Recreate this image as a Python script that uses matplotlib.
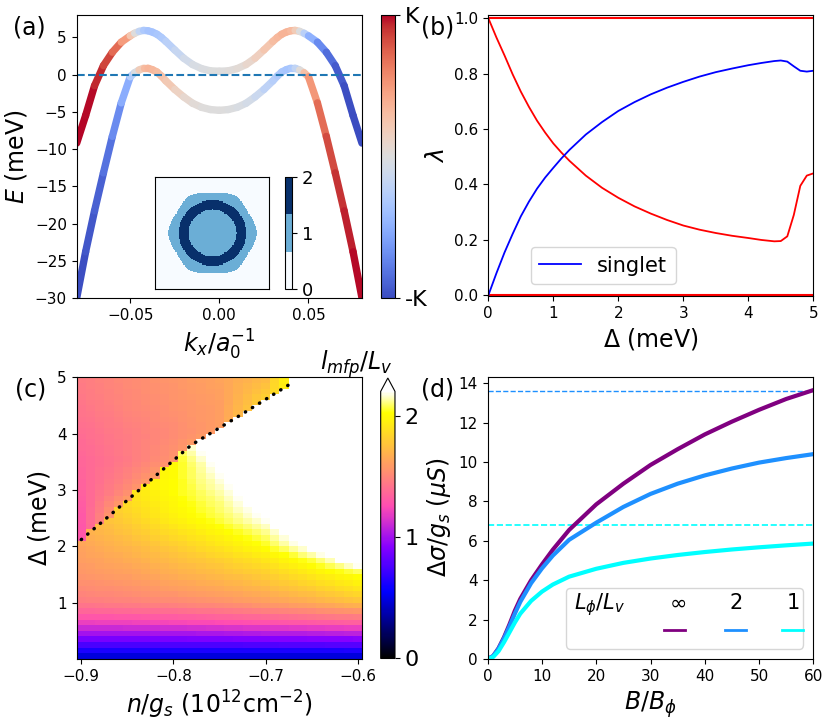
import numpy as np
import matplotlib
matplotlib.use('Agg')
import matplotlib.pyplot as plt
from matplotlib.collections import LineCollection
from matplotlib.lines import Line2D

# ---------------- (a) band structure ----------------
k_vals = [-0.08, -0.075, -0.07, -0.065, -0.06, -0.055, -0.05, -0.0475, -0.045, -0.0425, -0.04,
          -0.0375, -0.035, -0.0325, -0.03, -0.025, -0.02, -0.015, -0.01, -0.005, 0.0, 0.005, 0.01,
          0.015, 0.02, 0.025, 0.03, 0.0325, 0.035, 0.0375, 0.04, 0.0425, 0.045, 0.0475, 0.05,
          0.055, 0.06, 0.065, 0.07, 0.075, 0.08]
upper_E = [-9.2, -5.5, -1.5, 1.2, 3.0, 4.35, 5.2, 5.55, 5.8, 5.93, 5.88, 5.7, 5.42, 4.98, 4.45,
           3.3, 2.2, 1.35, 0.8, 0.5, 0.45, 0.5, 0.8, 1.35, 2.2, 3.3, 4.45, 4.98, 5.42, 5.7, 5.88,
           5.93, 5.8, 5.55, 5.2, 4.35, 3.0, 1.2, -1.5, -5.5, -9.2]
lower_E = [-30.0, -23.8, -18.3, -13.2, -8.3, -3.8, -0.3, 0.25, 0.62, 0.85, 0.85, 0.65, 0.35,
           -0.2, -0.85, -2.0, -3.0, -3.85, -4.4, -4.7, -4.8, -4.7, -4.4, -3.85, -3.0, -2.0, -0.85,
           -0.2, 0.35, 0.65, 0.85, 0.85, 0.62, 0.25, -0.3, -3.8, -8.3, -13.2, -18.3, -23.8, -30.0]
upper_pol = [1.0, 1.0, 0.97, 0.9, 0.8, 0.62, 0.35, 0.12, -0.1, -0.28, -0.36, -0.37, -0.35, -0.32,
             -0.28, -0.2, -0.12, -0.06, -0.03, -0.01, 0.0, 0.01, 0.03, 0.06, 0.12, 0.2, 0.28, 0.32,
             0.35, 0.37, 0.36, 0.28, 0.1, -0.12, -0.35, -0.62, -0.8, -0.9, -0.97, -1.0, -1.0]
lower_pol = [-1.0, -0.97, -0.93, -0.87, -0.78, -0.62, -0.4, -0.15, 0.1, 0.28, 0.35, 0.34, 0.32, 0.28,
             0.25, 0.18, 0.1, 0.05, 0.02, 0.0, 0.0, 0.0, -0.02, -0.05, -0.1, -0.18, -0.25, -0.28,
             -0.32, -0.34, -0.35, -0.28, -0.1, 0.15, 0.4, 0.62, 0.78, 0.87, 0.93, 0.97, 1.0]

# inset: Fermi-surface count map (hexagonal pocket with ring)
hex_apothem = 0.73
ring_outer = 0.59
ring_inner = 0.42
inset_pixels = 101

# ---------------- (b) eigenvalues ----------------
delta_b = [0, 0.125, 0.25, 0.375, 0.5, 0.625, 0.75, 0.875, 1.0, 1.125, 1.25, 1.5, 1.75, 2.0,
           2.25, 2.5, 2.75, 3.0, 3.25, 3.5, 3.75, 4.0, 4.2, 4.4, 4.5, 4.6, 4.7, 4.8, 4.9, 5.0]
red_curve = [1.0, 0.93, 0.865, 0.797, 0.735, 0.68, 0.63, 0.587, 0.548, 0.515, 0.485, 0.432,
             0.388, 0.352, 0.321, 0.295, 0.272, 0.252, 0.237, 0.225, 0.215, 0.207, 0.2, 0.195,
             0.196, 0.213, 0.29, 0.395, 0.432, 0.44]
singlet = [0.0, 0.08, 0.155, 0.222, 0.285, 0.338, 0.385, 0.425, 0.46, 0.494, 0.525, 0.58, 0.625,
           0.665, 0.697, 0.725, 0.749, 0.77, 0.789, 0.805, 0.818, 0.83, 0.838, 0.845, 0.847,
           0.843, 0.826, 0.81, 0.807, 0.81]
red_flat = [0.0, 1.0]

# ---------------- (c) l_mfp / L_v map ----------------
n_cols = [-0.9, -0.85, -0.8, -0.75, -0.7, -0.65, -0.6]
lower_rows = [0.05, 0.15, 0.25, 0.35, 0.45, 0.55, 0.65, 0.75, 0.85, 1.0, 1.25, 1.5, 1.75, 2.0,
              2.5, 3.0, 3.5, 4.0, 5.0]
lower_table = [
    [0.48, 0.48, 0.48, 0.48, 0.48, 0.48, 0.48],
    [0.62, 0.62, 0.62, 0.62, 0.62, 0.62, 0.63],
    [0.75, 0.75, 0.76, 0.76, 0.77, 0.78, 0.79],
    [0.88, 0.88, 0.89, 0.90, 0.91, 0.92, 0.93],
    [1.00, 1.00, 1.01, 1.02, 1.04, 1.05, 1.07],
    [1.10, 1.11, 1.12, 1.14, 1.16, 1.18, 1.20],
    [1.20, 1.21, 1.23, 1.25, 1.28, 1.31, 1.34],
    [1.29, 1.30, 1.32, 1.35, 1.38, 1.42, 1.46],
    [1.36, 1.38, 1.40, 1.43, 1.47, 1.52, 1.57],
    [1.45, 1.48, 1.51, 1.55, 1.60, 1.66, 1.74],
    [1.52, 1.55, 1.60, 1.65, 1.71, 1.80, 1.91],
    [1.57, 1.61, 1.67, 1.73, 1.81, 1.93, 2.04],
    [1.60, 1.66, 1.73, 1.81, 1.91, 2.06, 2.28],
    [1.63, 1.71, 1.80, 1.91, 2.03, 2.24, 2.45],
    [1.70, 1.82, 1.96, 2.07, 2.20, 2.45, 2.60],
    [1.75, 1.90, 2.02, 2.14, 2.32, 2.60, 2.60],
    [1.80, 1.95, 2.00, 2.24, 2.50, 2.60, 2.60],
    [1.85, 2.00, 2.10, 2.40, 2.60, 2.60, 2.60],
    [1.90, 2.10, 2.30, 2.60, 2.60, 2.60, 2.60],
]
upper_rows = [2.0, 2.5, 3.0, 3.5, 4.0, 4.5, 5.0]
upper_table = [
    [1.28, 1.60, 1.80, 1.90, 2.00, 2.00, 2.00],
    [1.30, 1.75, 1.80, 1.90, 2.00, 2.00, 2.00],
    [1.34, 1.52, 1.75, 1.90, 2.00, 2.00, 2.00],
    [1.36, 1.45, 1.56, 1.80, 2.00, 2.00, 2.00],
    [1.39, 1.46, 1.52, 1.60, 1.95, 2.00, 2.00],
    [1.43, 1.50, 1.55, 1.60, 1.85, 2.00, 2.00],
    [1.46, 1.52, 1.57, 1.63, 1.72, 2.30, 2.30],
]
boundary_n = [-0.9, -0.8726, -0.7805, -0.7282, -0.6754]
boundary_d = [2.12, 2.50, 3.80, 4.32, 4.86]

# ---------------- (d) magnetoconductance ----------------
B_vals = [0, 1, 2, 3, 4, 5, 6, 8, 10, 12, 15, 20, 25, 30, 35, 40, 45, 50, 55, 60]
sigma_inf = [0, 0.15, 0.55, 1.1, 1.75, 2.45, 3.05, 4.0, 4.8, 5.55, 6.55, 7.85, 8.9, 9.85, 10.65,
             11.4, 12.05, 12.65, 13.2, 13.65]
sigma_2 = [0, 0.15, 0.52, 1.05, 1.65, 2.3, 2.9, 3.85, 4.6, 5.25, 6.05, 6.92, 7.72, 8.38, 8.9,
           9.32, 9.67, 9.97, 10.2, 10.4]
sigma_1 = [0, 0.1, 0.4, 0.85, 1.35, 1.85, 2.3, 2.95, 3.42, 3.78, 4.18, 4.58, 4.88, 5.1, 5.28,
           5.43, 5.56, 5.67, 5.77, 5.86]
sat_2 = 13.58
sat_1 = 6.79

LABEL = 17
TICK = 11

fig = plt.figure(figsize=(8.31, 7.21), dpi=100)

# ---- panel (a)
ax_a = fig.add_axes([0.0923, 0.5867, 0.3433, 0.3925])
norm_a = plt.Normalize(-1, 1)
for E, pol in [(upper_E, upper_pol), (lower_E, lower_pol)]:
    pts = np.column_stack([k_vals, E])
    segs = np.stack([pts[:-1], pts[1:]], axis=1)
    seg_pol = 0.5 * (np.array(pol[:-1]) + np.array(pol[1:]))
    lc = LineCollection(segs, cmap='coolwarm', norm=norm_a, linewidths=5.3, capstyle='round')
    lc.set_array(seg_pol)
    ax_a.add_collection(lc)
ax_a.axhline(0, color='#1f77b4', linestyle='--', lw=1.5)
ax_a.set_xlim(-0.08, 0.08)
ax_a.set_ylim(-30, 8)
ax_a.set_xticks([-0.05, 0.0, 0.05])
ax_a.set_yticks([-30, -25, -20, -15, -10, -5, 0, 5])
ax_a.tick_params(labelsize=TICK)
ax_a.set_xlabel(r'$k_x/a_0^{-1}$', fontsize=LABEL)
ax_a.set_ylabel(r'$E$ (meV)', fontsize=LABEL)

cax_a = fig.add_axes([0.4585, 0.5867, 0.01685, 0.3925])
cb_a = fig.colorbar(plt.cm.ScalarMappable(norm=norm_a, cmap='coolwarm'), cax=cax_a)
cb_a.set_ticks([-1, 1])
cb_a.set_ticklabels(['-K', 'K'])
cb_a.ax.tick_params(labelsize=16)

# inset
ax_in = fig.add_axes([0.1865, 0.5992, 0.1372, 0.1553])
g = np.linspace(-1, 1, inset_pixels)
X, Y = np.meshgrid(g, g)
c30, s30 = np.cos(np.pi / 6), np.sin(np.pi / 6)
p = 10
hex_d = (np.abs(Y) ** p + np.abs(X * c30 + Y * s30) ** p + np.abs(X * c30 - Y * s30) ** p) ** (1 / p)
R = np.hypot(X, Y)
counts = (hex_d < hex_apothem).astype(float) + ((R < ring_outer) & (R > ring_inner)).astype(float)
im_in = ax_in.imshow(counts, cmap=plt.get_cmap('Blues', 3), vmin=0, vmax=2, origin='lower',
                     interpolation='nearest', extent=[-1, 1, -1, 1], aspect='auto')
ax_in.set_xticks([])
ax_in.set_yticks([])
cax_in = fig.add_axes([0.343, 0.5992, 0.0088, 0.1553])
cb_in = fig.colorbar(im_in, cax=cax_in, ticks=[0, 1, 2])
cb_in.ax.tick_params(labelsize=13)

# ---- panel (b)
ax_b = fig.add_axes([0.5876, 0.5895, 0.3911, 0.3893])
for v in red_flat:
    ax_b.plot([delta_b[0], delta_b[-1]], [v, v], color='red', lw=1.5)
ax_b.plot(delta_b, red_curve, color='red', lw=1.3)
ax_b.plot(delta_b, singlet, color='blue', lw=1.3, label='singlet')
ax_b.set_xlim(0, 5)
ax_b.set_ylim(-0.002, 1.01)
ax_b.set_yticks([0, 0.2, 0.4, 0.6, 0.8, 1.0])
ax_b.tick_params(labelsize=TICK)
ax_b.set_xlabel(r'$\Delta$ (meV)', fontsize=LABEL)
ax_b.set_ylabel(r'$\lambda$', fontsize=LABEL)
ax_b.legend(loc='lower left', bbox_to_anchor=(0.13, 0.043), borderaxespad=0, fontsize=15)

# ---- panel (c)
ax_c = fig.add_axes([0.0923, 0.0860, 0.3437, 0.3907])
n_centers = np.round(-0.9 + 0.01 * np.arange(31), 3)
d_centers = np.round(0.05 + 0.1 * np.arange(50), 3)
n_edges = np.append(n_centers - 0.005, n_centers[-1] + 0.005)
d_edges = np.append(d_centers - 0.05, d_centers[-1] + 0.05)


def table_lookup(rows, cols, table, d, n):
    per_row = np.array([np.interp(n, cols, r) for r in table])
    return np.interp(d, rows, per_row)


field = np.zeros((len(d_centers), len(n_centers)))
for i, d in enumerate(d_centers):
    for j, n in enumerate(n_centers):
        edge = np.interp(n, boundary_n, boundary_d, right=np.inf)
        if d > edge:
            field[i, j] = table_lookup(upper_rows, n_cols, upper_table, d, n)
        else:
            field[i, j] = table_lookup(lower_rows, n_cols, lower_table, d, n)

mesh = ax_c.pcolormesh(n_edges, d_edges, field, cmap='gnuplot2', vmin=0, vmax=2.2)
ax_c.plot(boundary_n, boundary_d, color='black', lw=2.5, linestyle=(0, (0.1, 2.3)),
          dash_capstyle='round')
ax_c.set_xlim(n_edges[0], n_edges[-1])
ax_c.set_ylim(0, 5)
ax_c.set_xticks([-0.9, -0.8, -0.7, -0.6])
ax_c.set_yticks([1, 2, 3, 4, 5])
ax_c.tick_params(labelsize=TICK)
ax_c.set_xlabel(r'$n/g_s$ ($10^{12}$cm$^{-2}$)', fontsize=LABEL)
ax_c.set_ylabel(r'$\Delta$ (meV)', fontsize=LABEL)

cax_c = fig.add_axes([0.4581, 0.0867, 0.0172, 0.389])
cb_c = fig.colorbar(mesh, cax=cax_c, extend='max', ticks=[0, 1, 2])
cb_c.ax.tick_params(labelsize=16)
fig.text(393 / 831, 1 - 364 / 721, r'$l_{mfp}/L_v$', ha='right', va='center', fontsize=LABEL)

# ---- panel (d)
ax_d = fig.add_axes([0.5869, 0.0860, 0.3918, 0.3915])
ax_d.axhline(sat_2, color='dodgerblue', linestyle='--', lw=1)
ax_d.axhline(sat_1, color='cyan', linestyle='--', lw=1.2)
ax_d.plot(B_vals, sigma_inf, color='purple', lw=3)
ax_d.plot(B_vals, sigma_2, color='dodgerblue', lw=3)
ax_d.plot(B_vals, sigma_1, color='cyan', lw=3)
ax_d.set_xlim(0, 60)
ax_d.set_ylim(0, 14.33)
ax_d.set_xticks([0, 10, 20, 30, 40, 50, 60])
ax_d.set_yticks([0, 2, 4, 6, 8, 10, 12, 14])
ax_d.tick_params(labelsize=TICK)
ax_d.set_xlabel(r'$B/B_\phi$', fontsize=LABEL)
ax_d.set_ylabel(r'$\Delta\sigma/g_s$ ($\mu S$)', fontsize=LABEL)
blank = Line2D([], [], linestyle='none')
h_inf = Line2D([], [], color='purple', lw=2)
h_2 = Line2D([], [], color='dodgerblue', lw=2)
h_1 = Line2D([], [], color='cyan', lw=2)
ax_d.legend([blank, blank, blank, h_inf, blank, h_2, blank, h_1],
            [r'$L_\phi/L_v$', '', r'$\infty$', '', '2', '', '1', ''],
            ncol=4, loc='lower right', fontsize=15, handlelength=1.0,
            handletextpad=-0.8, columnspacing=1.9, labelspacing=0.38, borderpad=0.15)

# panel letters
for x, y, s in [(13, 28, '(a)'), (421, 28, '(b)'), (15, 389, '(c)'), (421, 389, '(d)')]:
    fig.text(x / 831, 1 - y / 721, s, fontsize=17, va='center', ha='left')

plt.savefig('out.png', dpi=100)
plt.close()
